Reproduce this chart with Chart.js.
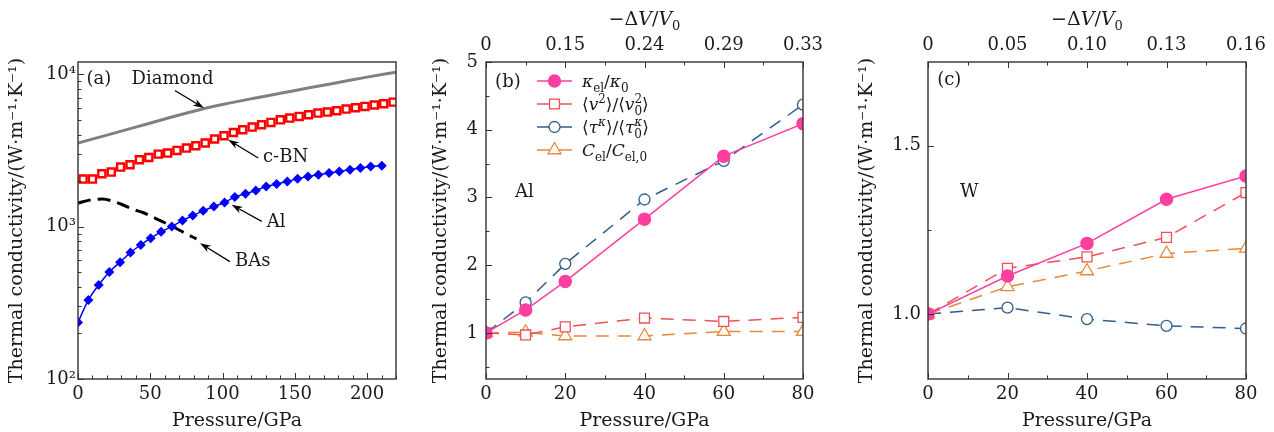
<!DOCTYPE html>
<html>
<head>
<meta charset="utf-8">
<script src="https://cdn.jsdelivr.net/npm/chart.js@4.4.1/dist/chart.umd.min.js"></script>
<style>
  body { margin: 0; background: #fff; }
  .panel { position: absolute; top: 0; height: 432px; }
</style>
</head>
<body>
<div class="panel" style="left:0;width:420px"><canvas id="chartA"></canvas></div>
<div class="panel" style="left:420px;width:430px"><canvas id="chartB"></canvas></div>
<div class="panel" style="left:850px;width:424px"><canvas id="chartC"></canvas></div>
<script>
// (a) thermal conductivity vs pressure, log scale
const diamondP = [0, 20, 40, 60, 80, 100, 120, 140, 160, 180, 200, 220];
const diamondK = [3530, 3980, 4490, 5070, 5710, 6310, 6890, 7480, 8130, 8810, 9550, 10300];

const cbnP = [3.5, 10, 16.5, 23, 29.5, 36, 42.5, 49, 55.5, 62, 68.5, 75, 81.5, 88, 94.5, 101,
  107.5, 114, 120.5, 127, 133.5, 140, 146.5, 153, 159.5, 166, 172.5, 179, 185.5, 192, 198.5, 205, 211.5, 218];
const cbnK = [2047, 2047, 2219, 2276, 2455, 2541, 2741, 2838, 2985, 3032, 3155, 3272, 3388, 3530, 3750, 3940,
  4140, 4313, 4490, 4652, 4817, 5013, 5143, 5275, 5411, 5550, 5632, 5745, 5893, 6010, 6137, 6265, 6385, 6546];

const alP = [0, 7.2, 14.3, 21.7, 29.1, 36.3, 43.4, 50.3, 57.5, 64.9, 72.3, 79.4, 86.6, 94.0, 101.4,
  108.5, 115.9, 123.0, 130.2, 137.4, 144.8, 151.9, 159.1, 166.3, 173.7, 180.8, 188.2, 195.4, 202.5, 210.2];
const alK = [235, 330, 414, 504, 584, 675, 758, 839, 923, 1000, 1095, 1180, 1267, 1353, 1438,
  1560, 1641, 1724, 1832, 1898, 1975, 2055, 2130, 2185, 2242, 2297, 2357, 2418, 2477, 2504];

const basP = [0, 8, 17, 25, 30, 38, 45, 55, 65, 75, 82];
const basK = [1425, 1490, 1515, 1455, 1400, 1297, 1236, 1115, 1005, 895, 830];

const xTicksA = [0, 50, 100, 150, 200];
const yTicksA = [100, 1000, 10000];
const yTickLabelsA = ['10²', '10³', '10⁴'];

// (b) Al and (c) W, ratios vs pressure
const pressB = [0, 10, 20, 40, 60, 80];
const kappaB = [1.0, 1.34, 1.76, 2.68, 3.61, 4.09];
const velB = [1.0, 0.97, 1.09, 1.22, 1.17, 1.23];
const tauB = [1.0, 1.45, 2.02, 2.97, 3.54, 4.37];
const capB = [1.0, 1.01, 0.955, 0.955, 1.02, 1.02];
const dvB = ['0', '0.15', '0.24', '0.29', '0.33'];
const yTicksB = [1, 2, 3, 4, 5];

const pressC = [0, 20, 40, 60, 80];
const kappaC = [1.0, 1.113, 1.21, 1.341, 1.41];
const velC = [1.0, 1.136, 1.17, 1.228, 1.361];
const tauC = [1.0, 1.019, 0.985, 0.965, 0.957];
const capC = [1.0, 1.081, 1.128, 1.18, 1.195];
const dvC = ['0', '0.05', '0.10', '0.13', '0.16'];
const yTicksC = [1.0, 1.5];

const xTicksBC = [0, 20, 40, 60, 80];

const FAM = '"DejaVu Serif", serif';
const INK = '#1a1a1a';
const YTITLE = 'Thermal conductivity/(W·m⁻¹·K⁻¹)';
const TITLE_SIZE = 19;
const TEXT_SIZE = 18;

const PINK = '#fe3f9f', RED = '#f0505a', NAVY = '#2f5d8e', ORANGE = '#e8893a';

Chart.defaults.font.family = FAM;
Chart.defaults.font.size = TEXT_SIZE;
Chart.defaults.color = INK;
Chart.defaults.animation = false;

const pts = (xs, ys) => xs.map((x, i) => ({ x, y: ys[i] }));

function stepTicks(min, max, step) {
  const out = [];
  for (let v = min; v <= max + 1e-9; v += step) out.push(+v.toFixed(4));
  return out;
}
function minorOf(all, major) {
  return all.filter(v => !major.some(m => Math.abs(m - v) < 1e-6));
}

// text with italic runs, sub- and superscripts
function richText(ctx, parts, x, y, size, align) {
  const small = Math.round(size * 0.7);
  const font = (it, s) => `${it ? 'italic ' : ''}${s}px ${FAM}`;
  const widths = parts.map(p => {
    ctx.font = font(p.it, p.pos ? small : size);
    let w = ctx.measureText(p.t).width;
    if (p.sup) {
      ctx.font = font(p.supIt, small);
      w = Math.max(w, ctx.measureText(p.sup).width);
    }
    return w;
  });
  const total = widths.reduce((a, b) => a + b, 0);
  let cx = align === 'center' ? x - total / 2 : x;
  const base = y + size * 0.35;
  ctx.textAlign = 'left';
  ctx.textBaseline = 'alphabetic';
  parts.forEach((p, i) => {
    if (p.pos === 'sub') {
      ctx.font = font(p.it, small);
      ctx.fillText(p.t, cx, base + size * 0.28);
      if (p.sup) {
        ctx.font = font(p.supIt, small);
        ctx.fillText(p.sup, cx, base - size * 0.42);
      }
    } else if (p.pos === 'sup') {
      ctx.font = font(p.it, small);
      ctx.fillText(p.t, cx, base - size * 0.42);
    } else {
      ctx.font = font(p.it, size);
      ctx.fillText(p.t, cx, base);
    }
    cx += widths[i];
  });
}

function arrow(ctx, x0, y0, x1, y1) {
  const ang = Math.atan2(y1 - y0, x1 - x0);
  const len = 11, half = 3.6;
  const c = Math.cos(ang), s = Math.sin(ang);
  ctx.beginPath();
  ctx.moveTo(x0, y0);
  ctx.lineTo(x1 - c * len * 0.7, y1 - s * len * 0.7);
  ctx.stroke();
  ctx.beginPath();
  ctx.moveTo(x1, y1);
  ctx.lineTo(x1 - c * len - s * half, y1 - s * len + c * half);
  ctx.lineTo(x1 - c * len * 0.7, y1 - s * len * 0.7);
  ctx.lineTo(x1 - c * len + s * half, y1 - s * len - c * half);
  ctx.closePath();
  ctx.fill();
}

// frame, inward ticks, notes, arrows and the math legend
const decor = {
  id: 'decor',
  afterDraw(chart, args, o) {
    const { ctx, chartArea: a, scales } = chart;
    ctx.save();
    ctx.strokeStyle = '#333';
    ctx.fillStyle = INK;

    ctx.lineWidth = 1;
    const side = (key, list, len) => {
      const sc = scales[key];
      list.forEach(v => {
        const p = Math.round(sc.getPixelForValue(v)) + 0.5;
        ctx.beginPath();
        if (key === 'x') { ctx.moveTo(p, a.bottom); ctx.lineTo(p, a.bottom - len); }
        else if (key === 'x2') { ctx.moveTo(p, a.top); ctx.lineTo(p, a.top + len); }
        else { ctx.moveTo(a.left, p); ctx.lineTo(a.left + len, p); }
        ctx.stroke();
      });
    };
    Object.entries(o.ticks || {}).forEach(([key, t]) => {
      side(key, t.major, 6);
      side(key, t.minor, 3.5);
    });

    ctx.lineWidth = 1.4;
    ctx.strokeRect(a.left, a.top, a.right - a.left, a.bottom - a.top);

    ctx.strokeStyle = '#000';
    ctx.fillStyle = '#000';
    ctx.lineWidth = 1.3;
    (o.arrows || []).forEach(ar => {
      arrow(ctx,
        scales.x.getPixelForValue(ar.from[0]), scales.y.getPixelForValue(ar.from[1]),
        scales.x.getPixelForValue(ar.to[0]), scales.y.getPixelForValue(ar.to[1]));
    });

    ctx.fillStyle = INK;
    ctx.font = `${TEXT_SIZE}px ${FAM}`;
    ctx.textAlign = 'left';
    ctx.textBaseline = 'middle';
    (o.notes || []).forEach(n => {
      ctx.fillText(n.text, scales.x.getPixelForValue(n.at[0]), scales.y.getPixelForValue(n.at[1]));
    });

    if (o.topTitle) {
      ctx.fillStyle = INK;
      richText(ctx, o.topTitle, (a.left + a.right) / 2, 18, TITLE_SIZE, 'center');
    }

    if (o.legend) {
      const L = o.legend;
      L.items.forEach((it, i) => {
        const y = a.top + L.top + i * L.step;
        const x0 = a.left + L.left;
        ctx.setLineDash([]);
        ctx.strokeStyle = it.color;
        ctx.lineWidth = 1.5;
        ctx.beginPath();
        ctx.moveTo(x0, y);
        ctx.lineTo(x0 + L.len, y);
        ctx.stroke();
        ctx.fillStyle = it.fill;
        ctx.lineWidth = 1.3;
        Chart.helpers.drawPoint(ctx, { pointStyle: it.style, radius: it.radius, borderWidth: 1.3, rotation: 0 },
          x0 + L.len / 2, y);
        ctx.fillStyle = INK;
        richText(ctx, it.label, x0 + L.len + 10, y, 17, 'left');
      });
    }
    ctx.restore();
  }
};

function yTitle(pad) {
  return { display: true, text: YTITLE, padding: { top: pad, bottom: 0 }, font: { size: TITLE_SIZE } };
}
function xTitle() {
  return { display: true, text: 'Pressure/GPa', padding: { top: 0, bottom: 0 }, font: { size: TITLE_SIZE } };
}

// ---------- (a) ----------
const logMinorA = [];
yTicksA.forEach(d => { for (let m = 2; m <= 9; m++) if (m * d <= 12000) logMinorA.push(m * d); });

new Chart(document.getElementById('chartA'), {
  type: 'line',
  data: {
    datasets: [
      { data: pts(diamondP, diamondK), borderColor: '#808080', borderWidth: 3, pointRadius: 0,
        cubicInterpolationMode: 'monotone' },
      { data: pts(cbnP, cbnK), showLine: false, pointStyle: 'rect', pointRadius: 5,
        pointBorderWidth: 2.4, pointBorderColor: '#ff0000', pointBackgroundColor: '#ffffff' },
      { data: pts(alP, alK), borderColor: '#0000ff', borderWidth: 1.5, pointStyle: 'rectRot',
        pointRadius: 5, pointBorderWidth: 0, pointBackgroundColor: '#0000ff', cubicInterpolationMode: 'monotone' },
      { data: pts(basP, basK), borderColor: '#000', borderWidth: 3, borderDash: [13, 7], pointRadius: 0,
        cubicInterpolationMode: 'monotone' }
    ]
  },
  options: {
    responsive: true,
    maintainAspectRatio: false,
    layout: { padding: { left: 0, right: 24, top: 62, bottom: 0 } },
    scales: {
      x: {
        type: 'linear', min: 0, max: 220,
        afterBuildTicks: s => { s.ticks = xTicksA.map(v => ({ value: v })); },
        afterFit: s => { s.height = 53; },
        grid: { display: false, drawTicks: false },
        border: { display: false },
        ticks: { padding: 5, maxRotation: 0, autoSkip: false },
        title: xTitle()
      },
      y: {
        type: 'logarithmic', min: 100, max: 12000,
        afterBuildTicks: s => { s.ticks = yTicksA.map(v => ({ value: v })); },
        afterFit: s => { s.width = 78; },
        grid: { display: false, drawTicks: false },
        border: { display: false },
        ticks: { padding: 2, autoSkip: false, callback: v => yTickLabelsA[yTicksA.indexOf(v)] ?? '' },
        title: yTitle(6)
      }
    },
    plugins: {
      legend: { display: false },
      tooltip: { enabled: false },
      decor: {
        ticks: {
          x: { major: xTicksA, minor: minorOf(stepTicks(0, 220, 10), xTicksA) },
          y: { major: yTicksA, minor: logMinorA }
        },
        notes: [
          { text: '(a)', at: [5.8, 9270] },
          { text: 'Diamond', at: [37, 9270] },
          { text: 'c-BN', at: [128, 2825] },
          { text: 'Al', at: [130.5, 1060] },
          { text: 'BAs', at: [108.6, 587] }
        ],
        arrows: [
          { from: [67, 7800], to: [87.1, 5990] },
          { from: [124.7, 2813], to: [103.9, 3709] },
          { from: [127.1, 1080], to: [106.3, 1390] },
          { from: [105.1, 589], to: [84.4, 778] }
        ]
      }
    }
  },
  plugins: [decor]
});

// ---------- (b) and (c) ----------
const kappaLabel = [{ t: 'κ', it: 1 }, { t: 'el', pos: 'sub' }, { t: '/' }, { t: 'κ', it: 1 }, { t: '0', pos: 'sub' }];
const velLabel = [{ t: '⟨' }, { t: 'v', it: 1 }, { t: '2', pos: 'sup' }, { t: '⟩/⟨' }, { t: 'v', it: 1 },
  { t: '0', pos: 'sub', sup: '2' }, { t: '⟩' }];
const tauLabel = [{ t: '⟨' }, { t: 'τ', it: 1 }, { t: 'κ', pos: 'sup', it: 1 }, { t: '⟩/⟨' }, { t: 'τ', it: 1 },
  { t: '0', pos: 'sub', sup: 'κ', supIt: 1 }, { t: '⟩' }];
const capLabel = [{ t: 'C', it: 1 }, { t: 'el', pos: 'sub' }, { t: '/' }, { t: 'C', it: 1 }, { t: 'el,0', pos: 'sub' }];
const dvTitle = [{ t: '−Δ' }, { t: 'V', it: 1 }, { t: '/' }, { t: 'V', it: 1 }, { t: '0', pos: 'sub' }];

const DASH = [13, 9];

function ratioSets(p, kappa, vel, tau, cap) {
  return [
    { data: pts(p, kappa), borderColor: PINK, borderWidth: 1.5, pointStyle: 'circle', pointRadius: 6,
      pointBorderColor: PINK, pointBackgroundColor: PINK, order: 0 },
    { data: pts(p, vel), borderColor: RED, borderWidth: 1.5, borderDash: DASH, pointStyle: 'rect', pointRadius: 7,
      pointBorderWidth: 1.3, pointBorderColor: RED, pointBackgroundColor: '#fff', order: 2 },
    { data: pts(p, tau), borderColor: NAVY, borderWidth: 1.5, borderDash: DASH, pointStyle: 'circle', pointRadius: 5.5,
      pointBorderWidth: 1.3, pointBorderColor: NAVY, pointBackgroundColor: '#fff', order: 1 },
    { data: pts(p, cap), borderColor: ORANGE, borderWidth: 1.5, borderDash: DASH, pointStyle: 'triangle', pointRadius: 7.5,
      pointBorderWidth: 1.3, pointBorderColor: ORANGE, pointBackgroundColor: '#fff', order: 3 }
  ];
}

function ratioChart(id, sets, yMin, yMax, yTicks, yFmt, yMinor, dvLabels, rightPad, yWidth, yPad, titlePad, extra) {
  return new Chart(document.getElementById(id), {
    type: 'line',
    data: { datasets: sets },
    options: {
      responsive: true,
      maintainAspectRatio: false,
      layout: { padding: { left: 0, right: rightPad, top: 0, bottom: 0 } },
      scales: {
        x: {
          type: 'linear', min: 0, max: 80,
          afterBuildTicks: s => { s.ticks = xTicksBC.map(v => ({ value: v })); },
          afterFit: s => { s.height = 53; },
          grid: { display: false, drawTicks: false },
          border: { display: false },
          ticks: { padding: 5, maxRotation: 0, autoSkip: false },
          title: xTitle()
        },
        x2: {
          type: 'linear', position: 'top', min: 0, max: 80,
          afterBuildTicks: s => { s.ticks = xTicksBC.map(v => ({ value: v })); },
          afterFit: s => { s.height = 62; },
          grid: { display: false, drawTicks: false },
          border: { display: false },
          ticks: { padding: 6, maxRotation: 0, autoSkip: false, callback: v => dvLabels[xTicksBC.indexOf(v)] }
        },
        y: {
          type: 'linear', min: yMin, max: yMax,
          afterBuildTicks: s => { s.ticks = yTicks.map(v => ({ value: v })); },
          afterFit: s => { s.width = yWidth; },
          grid: { display: false, drawTicks: false },
          border: { display: false },
          ticks: { padding: yPad, autoSkip: false, callback: yFmt },
          title: yTitle(titlePad)
        }
      },
      plugins: {
        legend: { display: false },
        tooltip: { enabled: false },
        decor: Object.assign({
          ticks: {
            x: { major: xTicksBC, minor: minorOf(stepTicks(0, 80, 10), xTicksBC) },
            x2: { major: xTicksBC, minor: minorOf(stepTicks(0, 80, 10), xTicksBC) },
            y: { major: yTicks, minor: yMinor }
          },
          topTitle: dvTitle
        }, extra)
      }
    },
    plugins: [decor]
  });
}

const legendB = {
  left: 51, top: 19, step: 23, len: 35,
  items: [
    { label: kappaLabel, color: PINK, fill: PINK, style: 'circle', radius: 6 },
    { label: velLabel, color: RED, fill: '#fff', style: 'rect', radius: 7 },
    { label: tauLabel, color: NAVY, fill: '#fff', style: 'circle', radius: 5.5 },
    { label: capLabel, color: ORANGE, fill: '#fff', style: 'triangle', radius: 7.5 }
  ]
};

ratioChart('chartB', ratioSets(pressB, kappaB, velB, tauB, capB), 0.32, 5, yTicksB, v => String(v),
  minorOf(stepTicks(0.5, 5, 0.5), yTicksB), dvB, 47, 66, 8, 10,
  { notes: [{ text: '(b)', at: [2.3, 4.7] }, { text: 'Al', at: [7.3, 3.07] }], legend: legendB });

ratioChart('chartC', ratioSets(pressC, kappaC, velC, tauC, capC), 0.807, 1.749, yTicksC, v => v.toFixed(1),
  [1.25], dvC, 28, 78, 7, 6,
  { notes: [{ text: '(c)', at: [2.3, 1.696] }, { text: 'W', at: [8.05, 1.363] }] });
</script>
</body>
</html>
